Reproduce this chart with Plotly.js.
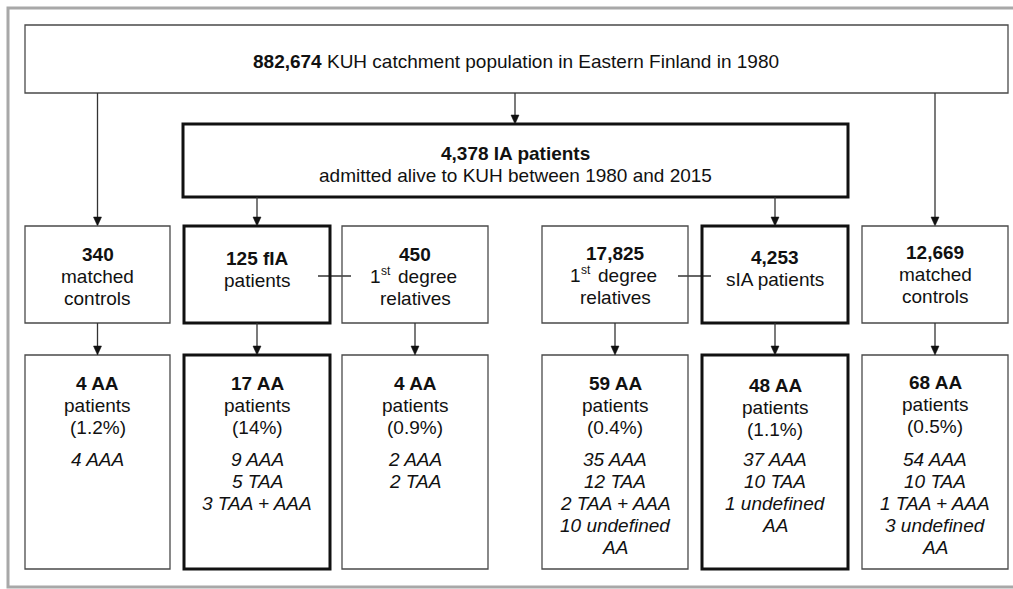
<!DOCTYPE html>
<html>
<head>
<meta charset="utf-8">
<script src="https://cdn.plot.ly/plotly-3.0.1.min.js"></script>
<style>html,body{margin:0;padding:0;background:#fff;}#chart{width:1013px;height:589px;}</style>
</head>
<body>
<div id="chart"></div>
<script>
// ---------- data ----------
const populationCount = "882,674";
const populationText = "KUH catchment population in Eastern Finland in 1980";
const iaCount = "4,378 IA patients";
const iaText = "admitted alive to KUH between 1980 and 2015";
const groupCounts = ["340", "125 fIA", "450", "17,825", "4,253", "12,669"];
// "1st" is written as an ordinal: number + superscript suffix + rest
const groupLabels = [
  [{plain: "matched"}, {plain: "controls"}],
  [{plain: "patients"}],
  [{ord: "1", sup: "st", rest: "degree"}, {plain: "relatives"}],
  [{ord: "1", sup: "st", rest: "degree"}, {plain: "relatives"}],
  [{plain: "sIA patients"}],
  [{plain: "matched"}, {plain: "controls"}]
];
const aaCounts = [4, 17, 4, 59, 48, 68];
const aaPercents = ["1.2%", "14%", "0.9%", "0.4%", "1.1%", "0.5%"];
const aaSubtypes = [
  ["4 AAA"],
  ["9 AAA", "5 TAA", "3 TAA + AAA"],
  ["2 AAA", "2 TAA"],
  ["35 AAA", "12 TAA", "2 TAA + AAA", "10 undefined", "AA"],
  ["37 AAA", "10 TAA", "1 undefined", "AA"],
  ["54 AAA", "10 TAA", "1 TAA + AAA", "3 undefined", "AA"]
];

// ---------- layout geometry ----------
const W = 1013, H = 589;
const colX0 = [25, 184, 342, 542, 702, 862];
const colX1 = [170, 330, 488, 688, 848, 1008];
const thick = [false, true, false, false, true, false];
const row2 = [226, 323], row3 = [355, 569];
const row2First = [253, 257, 253, 252, 256, 251];
const row3First = [382, 382, 382, 382, 384, 381];
const subFirst = 458;
const LH = 22.2;
const topBox = [25, 25, 1008, 93];
const iaBox = [183, 124, 848, 197];
const TXT_OFF = 1;
const FS = 19;
const FONT = "Liberation Sans, Arial, sans-serif";

const thinCol = "#4a4a4a", thickCol = "#111", arrowCol = "#333";
const shapes = [];
const annotations = [];

function rect(x0, y0, x1, y1, isThick) {
  shapes.push({type: "rect", xref: "x", yref: "y", x0, y0, x1, y1,
    line: {color: isThick ? thickCol : thinCol, width: isThick ? 3 : 1.3}, fillcolor: "rgba(0,0,0,0)"});
}
function line(x0, y0, x1, y1) {
  shapes.push({type: "line", xref: "x", yref: "y", x0, y0, x1, y1, line: {color: arrowCol, width: 1.3}});
}
function arrow(x, y0, y1) {
  line(x, y0, x, y1 - 8);
  shapes.push({type: "path", xref: "x", yref: "y",
    path: `M ${x - 4},${y1 - 9} L ${x + 4},${y1 - 9} L ${x},${y1} Z`,
    fillcolor: "#111", line: {color: "#111", width: 0.5}});
}
function text(x, y, t, opts, size) {
  annotations.push(Object.assign({xref: "x", yref: "y", x, y: y + TXT_OFF, text: t, showarrow: false,
    xanchor: "center", yanchor: "middle", borderpad: 0,
    font: {family: FONT, size: size || FS, color: "#111"}}, opts || {}));
}
function label(x, y, item) {
  if (item.plain !== undefined) { text(x, y, item.plain); return; }
  text(x - 33, y, item.ord, {xanchor: "right"});
  text(x - 35, y - 5, item.sup, {xanchor: "left"}, 12);
  text(x - 18, y, item.rest, {xanchor: "left"});
}

// outer frame
shapes.push({type: "rect", xref: "x", yref: "y", x0: 8, y0: 8, x1: 1040, y1: 587, line: {color: "#a8a8a8", width: 3}});

// top boxes
rect(topBox[0], topBox[1], topBox[2], topBox[3], false);
rect(iaBox[0], iaBox[1], iaBox[2], iaBox[3], true);
text(516, 60, "<b>" + populationCount + "</b> " + populationText);
text(515, 152, "<b>" + iaCount + "</b>");
text(515, 174, iaText);

// arrows from top
const cx = colX0.map((v, i) => (v + colX1[i]) / 2);
arrow(cx[0], topBox[3], row2[0]);
arrow(515, topBox[3], iaBox[1]);
arrow(cx[5], topBox[3], row2[0]);
arrow(cx[1], iaBox[3], row2[0]);
arrow(cx[4], iaBox[3], row2[0]);

// connectors between patients and relatives
line(318, 276, 351, 276);
line(678, 276, 711, 276);

for (let i = 0; i < 6; i++) {
  rect(colX0[i], row2[0], colX1[i], row2[1], thick[i]);
  rect(colX0[i], row3[0], colX1[i], row3[1], thick[i]);
  arrow(cx[i], row2[1], row3[0]);
  text(cx[i], row2First[i], "<b>" + groupCounts[i] + "</b>");
  groupLabels[i].forEach((l, k) => label(cx[i], row2First[i] + (k + 1) * LH, l));
  text(cx[i], row3First[i], "<b>" + aaCounts[i] + " AA</b>");
  text(cx[i], row3First[i] + LH, "patients");
  text(cx[i], row3First[i] + 2 * LH, "(" + aaPercents[i] + ")");
  aaSubtypes[i].forEach((l, k) => text(cx[i], subFirst + k * LH, "<i>" + l + "</i>"));
}

const layout = {
  width: W, height: H,
  margin: {l: 0, r: 0, t: 0, b: 0},
  paper_bgcolor: "#fff", plot_bgcolor: "#fff",
  xaxis: {range: [0, W], visible: false, fixedrange: true},
  yaxis: {range: [H, 0], visible: false, fixedrange: true},
  shapes, annotations, showlegend: false
};
Plotly.newPlot("chart", [], layout, {staticPlot: true, displayModeBar: false});
</script>
</body>
</html>
